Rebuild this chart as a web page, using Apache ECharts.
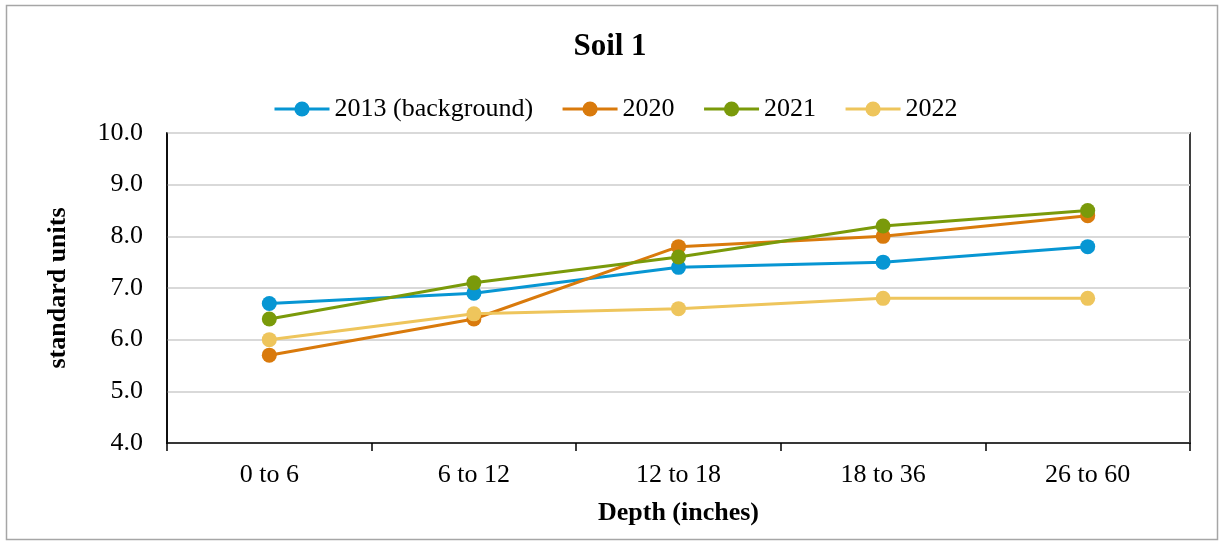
<!DOCTYPE html>
<html>
<head>
<meta charset="utf-8">
<script src="https://cdn.jsdelivr.net/npm/echarts@6/dist/echarts.min.js"></script>
<style>
  html, body { margin: 0; padding: 0; background: #fff; }
  #chart { width: 1220px; height: 542px; }
</style>
</head>
<body>
<div id="chart"></div>
<script>
// Soil pH by depth, per sampling year
const depths = ['0 to 6', '6 to 12', '12 to 18', '18 to 36', '26 to 60'];
const seriesNames = ['2013 (background)', '2020', '2021', '2022'];
const values2013 = [6.7, 6.9, 7.4, 7.5, 7.8];
const values2020 = [5.7, 6.4, 7.8, 8.0, 8.4];
const values2021 = [6.4, 7.1, 7.6, 8.2, 8.5];
const values2022 = [6.0, 6.5, 6.6, 6.8, 6.8];
const colors = ['#0796d3', '#d97a0c', '#7a9a0a', '#eec55c'];

const serif = '"Liberation Serif", "DejaVu Serif", serif';
const chart = echarts.init(document.getElementById('chart'));

function lineSeries(name, data, color) {
  return {
    name: name,
    type: 'line',
    data: data,
    symbol: 'circle',
    symbolSize: 15,
    lineStyle: { color: color, width: 3 },
    itemStyle: { color: color },
    emphasis: { disabled: true },
    z: 3
  };
}

chart.setOption({
  animation: false,
  backgroundColor: '#fff',
  graphic: [{
    type: 'rect',
    shape: { x: 6.5, y: 5.5, width: 1211, height: 534 },
    style: { fill: 'none', stroke: '#a6a6a6', lineWidth: 1.5 },
    silent: true
  }],
  title: {
    text: 'Soil 1',
    left: 'center',
    top: 26,
    textStyle: { fontFamily: serif, fontSize: 31, fontWeight: 'bold', color: '#000' }
  },
  legend: {
    top: 91,
    left: 268,
    itemWidth: 55,
    itemHeight: 19,
    itemGap: 28,
    lineStyle: { width: 3 },
    textStyle: { fontFamily: serif, fontSize: 26, color: '#000' },
    data: seriesNames
  },
  grid: {
    left: 167, right: 30, top: 133, bottom: 99,
    show: true, borderColor: '#000', borderWidth: 1.5,
    containLabel: false
  },
  xAxis: {
    type: 'category',
    data: depths,
    boundaryGap: true,
    name: 'Depth (inches)',
    nameLocation: 'middle',
    nameGap: 57,
    nameTextStyle: { fontFamily: serif, fontSize: 26, fontWeight: 'bold', color: '#000' },
    axisLine: { lineStyle: { color: '#000', width: 1.5 } },
    axisTick: { show: true, length: 8, inside: false, lineStyle: { color: '#000', width: 1.5 } },
    axisLabel: { fontFamily: serif, fontSize: 26, color: '#000', margin: 19 },
    splitLine: { show: false }
  },
  yAxis: {
    type: 'value',
    min: 4, max: 10, interval: 1,
    name: 'standard units',
    nameLocation: 'middle',
    nameRotate: 90,
    nameGap: 96,
    nameTextStyle: { fontFamily: serif, fontSize: 26, fontWeight: 'bold', color: '#000' },
    axisLine: { show: true, lineStyle: { color: '#000', width: 1.5 } },
    axisTick: { show: false },
    axisLabel: {
      fontFamily: serif, fontSize: 26, color: '#000', margin: 24,
      formatter: v => v.toFixed(1)
    },
    splitLine: { show: true, lineStyle: { color: '#d9d9d9', width: 2 } }
  },
  series: [
    lineSeries(seriesNames[0], values2013, colors[0]),
    lineSeries(seriesNames[1], values2020, colors[1]),
    lineSeries(seriesNames[2], values2021, colors[2]),
    lineSeries(seriesNames[3], values2022, colors[3])
  ]
});
</script>
</body>
</html>
